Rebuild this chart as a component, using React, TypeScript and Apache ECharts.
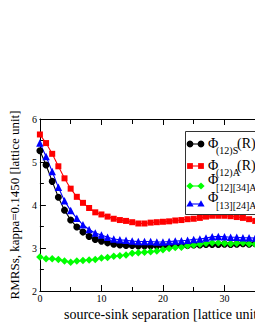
import React, { useEffect, useRef } from "react";
import * as echarts from "echarts";

const separations = [0,1,2,3,4,5,6,7,8,9,10,11,12,13,14,15,16,17,18,19,20,21,22,23,24,25,26,27,28,29,30,31,32,33,34,35,36];
const phi12S = [5.26,4.93,4.55,4.18,3.88,3.65,3.49,3.37,3.27,3.20,3.16,3.12,3.09,3.07,3.06,3.06,3.05,3.05,3.05,3.05,3.05,3.05,3.05,3.06,3.06,3.07,3.07,3.08,3.08,3.08,3.09,3.08,3.09,3.10,3.09,3.10,3.09];
const phi12A = [5.64,5.44,5.19,4.90,4.62,4.38,4.19,4.05,3.93,3.83,3.78,3.73,3.68,3.65,3.63,3.60,3.57,3.57,3.59,3.60,3.61,3.62,3.64,3.65,3.67,3.68,3.70,3.73,3.75,3.75,3.75,3.74,3.72,3.70,3.67,3.63,3.60];
const phi12_34A = [2.79,2.75,2.75,2.73,2.70,2.67,2.70,2.71,2.72,2.73,2.77,2.78,2.81,2.82,2.84,2.88,2.89,2.90,2.91,2.93,2.96,2.99,3.01,3.02,3.05,3.07,3.09,3.11,3.12,3.12,3.11,3.10,3.11,3.12,3.10,3.09,3.08];
const phi13_24A = [5.44,5.13,4.78,4.41,4.10,3.87,3.69,3.54,3.43,3.35,3.30,3.25,3.21,3.19,3.18,3.16,3.15,3.15,3.15,3.14,3.14,3.15,3.16,3.17,3.18,3.20,3.21,3.23,3.26,3.27,3.26,3.25,3.25,3.24,3.24,3.23,3.22];

const legendMain = ["Φ", "Φ", "Φ", "Φ"];
const legendSubs = ["(12)S", "(12)A", "[12][34]A", "[13][24]A"];
const legendTail = "(R)";

const FONT = "Liberation Serif";

export default function App() {
  const ref = useRef<HTMLDivElement>(null);
  useEffect(() => {
    if (!ref.current) return;
    const chart = echarts.init(ref.current, null, { renderer: "svg" });
    const pairs = (ys: number[]) => separations.map((x, i) => [x, ys[i]]);
    const mk = (name: string, ys: number[], color: string, symbol: string, size: number) => ({
      name,
      type: "line",
      data: pairs(ys),
      symbol,
      symbolSize: size,
      showSymbol: true,
      lineStyle: { color, width: 1.1 },
      itemStyle: { color },
      clip: true,
    });
    const colors = ["#000000", "#ff0000", "#00ff00", "#0000ff"];
    const symbols = ["circle", "rect", "diamond", "triangle"];
    const sizes = [7, 6, 7.5, 7.5];
    const rowY = [144, 166, 186, 204];
    const graphics: any[] = [
      {
        type: "rect",
        shape: { x: 185.5, y: 131.5, width: 100, height: 83 },
        style: { fill: "#ffffff", stroke: "#333333", lineWidth: 1 },
        z: 10,
      },
    ];
    rowY.forEach((y, i) => {
      graphics.push({
        type: "line",
        shape: { x1: 190, y1: y, x2: 201, y2: y },
        style: { stroke: colors[i], lineWidth: 1.1 },
        z: 11,
      });
      [190, 201].forEach((cx) => {
        if (i === 0) graphics.push({ type: "circle", shape: { cx, cy: y, r: 3.4 }, style: { fill: colors[i] }, z: 12 });
        if (i === 1) graphics.push({ type: "rect", shape: { x: cx - 2.9, y: y - 2.9, width: 5.8, height: 5.8 }, style: { fill: colors[i] }, z: 12 });
        if (i === 2) graphics.push({ type: "polygon", shape: { points: [[cx, y - 3.6], [cx + 3.6, y], [cx, y + 3.6], [cx - 3.6, y]] }, style: { fill: colors[i] }, z: 12 });
        if (i === 3) graphics.push({ type: "polygon", shape: { points: [[cx, y - 3.8], [cx + 3.6, y + 2.6], [cx - 3.6, y + 2.6]] }, style: { fill: colors[i] }, z: 12 });
      });
      const twoLine = i >= 2;
      const phiY = twoLine ? y - 7 : y - 1;
      const subY = twoLine ? y + 1 : y + 6;
      graphics.push({
        type: "text",
        x: 208,
        y: phiY,
        style: { text: legendMain[i], fontFamily: FONT, fontSize: 14, fill: "#000", verticalAlign: "middle", align: "left" },
        z: 12,
      });
      graphics.push({
        type: "text",
        x: 216,
        y: subY,
        style: { text: legendSubs[i], fontFamily: FONT, fontSize: 10, fill: "#000", verticalAlign: "middle", align: "left" },
        z: 12,
      });
      graphics.push({
        type: "text",
        x: i <= 1 ? 237 : 257,
        y: phiY,
        style: { text: legendTail, fontFamily: FONT, fontSize: 14, fill: "#000", verticalAlign: "middle", align: "left" },
        z: 12,
      });
    });

    chart.setOption({
      animation: false,
      backgroundColor: "#ffffff",
      textStyle: { fontFamily: FONT },
      grid: { left: 36, top: 119, width: 250, height: 172, containLabel: false },
      xAxis: [
        {
          type: "value",
          min: 0,
          max: 40,
          interval: 10,
          name: "source-sink separation [lattice unit]",
          nameLocation: "middle",
          nameGap: 12,
          nameTextStyle: { fontFamily: FONT, fontSize: 14, color: "#000", verticalAlign: "top" },
          axisLine: { lineStyle: { color: "#000", width: 1 } },
          axisTick: { inside: true, length: 6, lineStyle: { color: "#000" } },
          minorTick: { show: true, splitNumber: 2, length: 4, lineStyle: { color: "#000" } },
          axisLabel: { fontFamily: FONT, fontSize: 10, color: "#000", margin: 2 },
          splitLine: { show: false },
        },
        {
          type: "value",
          position: "top",
          min: 0,
          max: 40,
          interval: 10,
          axisLine: { lineStyle: { color: "#000", width: 1 } },
          axisTick: { inside: true, length: 6, lineStyle: { color: "#000" } },
          minorTick: { show: true, splitNumber: 2, length: 5, lineStyle: { color: "#000" } },
          axisLabel: { show: false },
          splitLine: { show: false },
        },
      ],
      yAxis: [
        {
          type: "value",
          min: 2,
          max: 6,
          interval: 1,
          name: "RMRSs, kappa=0.1450 [lattice unit]",
          nameLocation: "middle",
          nameGap: 13,
          nameTextStyle: { fontFamily: FONT, fontSize: 13, color: "#000" },
          axisLine: { show: true, lineStyle: { color: "#000", width: 1 } },
          axisTick: { show: true, inside: true, length: 6, lineStyle: { color: "#000" } },
          minorTick: { show: true, splitNumber: 2, length: 4, lineStyle: { color: "#000" } },
          axisLabel: { fontFamily: FONT, fontSize: 10, color: "#000", margin: 3 },
          splitLine: { show: false },
        },
      ],
      series: [
        mk("Φ(12)S(R)", phi12S, colors[0], symbols[0], sizes[0]),
        mk("Φ(12)A(R)", phi12A, colors[1], symbols[1], sizes[1]),
        mk("Φ[12][34]A(R)", phi12_34A, colors[2], symbols[2], sizes[2]),
        mk("Φ[13][24]A(R)", phi13_24A, colors[3], symbols[3], sizes[3]),
      ],
      graphic: graphics,
    });
    return () => chart.dispose();
  }, []);
  return (
    <div style={{ position: "fixed", left: 0, top: 0, width: 255, height: 330, overflow: "hidden", background: "#fff" }}>
      <div ref={ref} style={{ width: 300, height: 330 }} />
    </div>
  );
}
